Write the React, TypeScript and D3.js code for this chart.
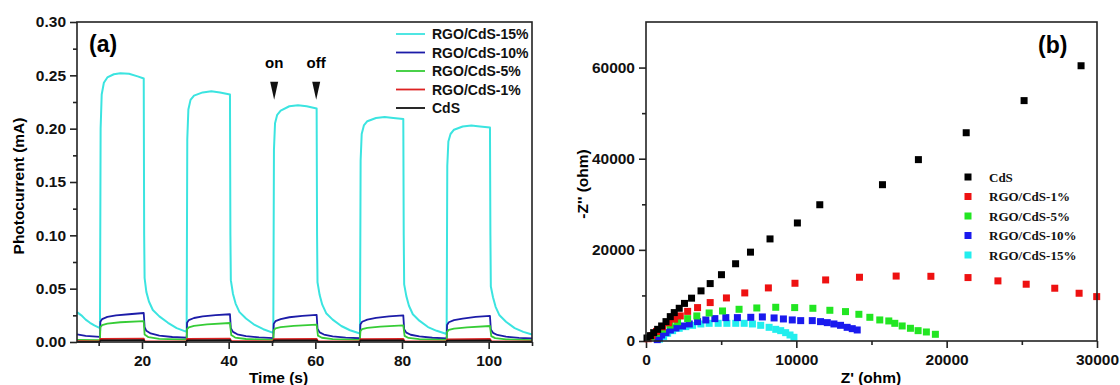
import React, { useEffect, useRef } from 'react'
import {
  select,
  line,
  axisBottom,
  axisLeft,
  scaleLinear,
  format
} from 'd3'

// ---- panel (a): photocurrent vs time ----
const seriesA = ['RGO/CdS-15%', 'RGO/CdS-10%', 'RGO/CdS-5%', 'RGO/CdS-1%', 'CdS']
const colorsA = ['#3be4e0', '#1c1ca8', '#36cc36', '#dd2222', '#111111']

const cyan15 = [
  [5, 0.028], [6, 0.025], [7, 0.021], [8, 0.018], [9, 0.0155], [10.3, 0.013],
  [10.45, 0.2], [10.7, 0.232], [11.2, 0.243], [12, 0.248], [13.5, 0.251], [15, 0.252], [17, 0.2515], [19, 0.249], [20.4, 0.247],
  [20.5, 0.1], [20.6, 0.06], [21, 0.047], [21.6, 0.038], [22.5, 0.03], [24, 0.024], [26, 0.018], [28, 0.013], [30.3, 0.0095],
  [30.45, 0.19], [30.7, 0.218], [31.2, 0.227], [32, 0.231], [34, 0.234], [36, 0.235], [38, 0.234], [40.3, 0.232],
  [40.4, 0.1], [40.5, 0.058], [41, 0.045], [41.6, 0.036], [42.5, 0.028], [44, 0.022], [46, 0.016], [48, 0.012], [50.3, 0.0085],
  [50.45, 0.18], [50.7, 0.205], [51.2, 0.213], [52, 0.217], [54, 0.221], [56, 0.222], [58, 0.221], [60.3, 0.219],
  [60.4, 0.1], [60.5, 0.056], [61, 0.044], [61.6, 0.035], [62.5, 0.027], [64, 0.021], [66, 0.015], [68, 0.011], [70.3, 0.008],
  [70.45, 0.17], [70.7, 0.195], [71.2, 0.203], [72, 0.207], [74, 0.21], [76, 0.211], [78, 0.21], [80.3, 0.209],
  [80.4, 0.1], [80.5, 0.054], [81, 0.043], [81.6, 0.034], [82.5, 0.026], [84, 0.02], [86, 0.014], [88, 0.0105], [90.3, 0.0075],
  [90.45, 0.165], [90.7, 0.188], [91.2, 0.195], [92, 0.199], [94, 0.202], [96, 0.203], [98, 0.202], [100.3, 0.201],
  [100.4, 0.1], [100.5, 0.052], [101, 0.042], [101.6, 0.033], [102.5, 0.025], [104, 0.019], [106, 0.013], [108, 0.0095], [110, 0.007]
]

const blue10 = [
  [5, 0.0072], [7, 0.0058], [10.3, 0.0048],
  [10.4, 0.019], [10.8, 0.0215], [12, 0.0235], [14, 0.025], [17, 0.026], [20.4, 0.0272],
  [20.6, 0.014], [21, 0.0105], [22, 0.008], [24, 0.006], [27, 0.0047], [30.3, 0.004],
  [30.4, 0.018], [30.8, 0.0205], [32, 0.0225], [34, 0.024], [37, 0.0252], [40.3, 0.026],
  [40.5, 0.013], [41, 0.0095], [42, 0.0072], [44, 0.0055], [47, 0.0043], [50.3, 0.0037],
  [50.4, 0.017], [50.8, 0.0195], [52, 0.0215], [54, 0.0232], [57, 0.0245], [60.3, 0.0255],
  [60.5, 0.0125], [61, 0.009], [62, 0.007], [64, 0.0053], [67, 0.0041], [70.3, 0.0035],
  [70.4, 0.0165], [70.8, 0.019], [72, 0.021], [74, 0.0226], [77, 0.024], [80.3, 0.025],
  [80.5, 0.012], [81, 0.0088], [82, 0.0068], [84, 0.0052], [87, 0.004], [90.3, 0.0034],
  [90.4, 0.016], [90.8, 0.0185], [92, 0.0205], [94, 0.022], [97, 0.0235], [100.3, 0.0244],
  [100.5, 0.0118], [101, 0.0086], [102, 0.0066], [104, 0.005], [107, 0.0039], [110, 0.0033]
]

const green5 = [
  [5, 0.002], [10.3, 0.0018],
  [10.4, 0.014], [10.8, 0.0158], [12, 0.0172], [15, 0.0185], [20.4, 0.0195],
  [20.6, 0.007], [21.5, 0.0045], [24, 0.003], [30.3, 0.0022],
  [30.4, 0.012], [30.8, 0.0138], [32, 0.0152], [35, 0.0165], [40.3, 0.0178],
  [40.6, 0.0065], [41.5, 0.0042], [44, 0.0028], [50.3, 0.002],
  [50.4, 0.011], [50.8, 0.0127], [52, 0.014], [55, 0.0152], [60.3, 0.0163],
  [60.6, 0.006], [61.5, 0.004], [64, 0.0027], [70.3, 0.002],
  [70.4, 0.0102], [70.8, 0.012], [72, 0.0133], [75, 0.0145], [80.3, 0.0156],
  [80.6, 0.0057], [81.5, 0.0038], [84, 0.0026], [90.3, 0.0019],
  [90.4, 0.0095], [90.8, 0.0113], [92, 0.0126], [95, 0.0138], [100.3, 0.015],
  [100.6, 0.0055], [101.5, 0.0036], [104, 0.0025], [110, 0.0018]
]

const red1 = [
  [5, 0.0008], [10.3, 0.0006], [10.4, 0.0028], [20.4, 0.0032],
  [20.6, 0.0008], [30.3, 0.0006], [30.4, 0.0028], [40.3, 0.0031],
  [40.6, 0.0008], [50.3, 0.0006], [50.4, 0.0027], [60.3, 0.003],
  [60.6, 0.0007], [70.3, 0.0006], [70.4, 0.0026], [80.3, 0.0029],
  [80.6, 0.0007], [90.3, 0.0005], [90.4, 0.0025], [100.3, 0.0028],
  [100.6, 0.0007], [110, 0.0005]
]

const cds = [
  [5, 0.0002], [10.3, 0.0002], [10.4, 0.0015], [20.4, 0.0017],
  [20.6, 0.0002], [30.3, 0.0002], [30.4, 0.0015], [40.3, 0.0017],
  [40.6, 0.0002], [50.3, 0.0002], [50.4, 0.0014], [60.3, 0.0016],
  [60.6, 0.0002], [70.3, 0.0002], [70.4, 0.0014], [80.3, 0.0016],
  [80.6, 0.0002], [90.3, 0.0002], [90.4, 0.0013], [100.3, 0.0015],
  [100.6, 0.0002], [110, 0.0002]
]

const timeTicks = [20, 40, 60, 80, 100]
const timeMinor = [10, 30, 50, 70, 90, 110]
const currentTicks = [0, 0.05, 0.1, 0.15, 0.2, 0.25, 0.3]
const currentMinor = [0.025, 0.075, 0.125, 0.175, 0.225, 0.275]

// ---- panel (b): Nyquist plot ----
const seriesB = ['CdS', 'RGO/CdS-1%', 'RGO/CdS-5%', 'RGO/CdS-10%', 'RGO/CdS-15%']
const colorsB = ['#000000', '#ee1111', '#22e622', '#1a1aee', '#22eeee']

const nyqCdS = [
  [66, 660], [290, 1170], [510, 1830], [775, 2560], [1040, 3300], [1330, 4250], [1615, 5350],
  [1880, 6230], [2210, 7180], [2560, 8250], [3030, 9400], [3660, 11000], [4270, 12600],
  [5020, 14550], [5960, 16950], [6950, 19500], [8250, 22400], [10070, 25900], [11560, 29900],
  [15730, 34300], [18120, 39800], [21300, 45700], [25150, 52750], [28940, 60400]
]
const nyq1 = [
  [150, 500], [400, 1200], [700, 2100], [1100, 3100], [1500, 4000], [1900, 4800], [2280, 5500],
  [2770, 6500], [3430, 7330], [4270, 8430], [5350, 9450], [6570, 10550], [8140, 11650],
  [9910, 12670], [11950, 13400], [14200, 13990], [16640, 14250], [18950, 14200], [21420, 13920],
  [23410, 13190], [25290, 12460], [27190, 11580], [28810, 10480], [29980, 9740]
]
const nyq5 = [
  [350, 900], [700, 1700], [1100, 2600], [1600, 3500], [2100, 4250], [2770, 4910], [3380, 5500],
  [4200, 6150], [5090, 6590], [6190, 6960], [7370, 7250], [8630, 7400], [9890, 7330], [11100, 7180],
  [12230, 6740], [13270, 6450], [14160, 5860], [14890, 5200], [15550, 4620], [16150, 4400],
  [16550, 3880], [17040, 3300], [17590, 2790], [18100, 2270], [18650, 1980], [19250, 1470]
]
const nyq10 = [
  [750, 300], [885, 810], [1040, 1320], [1330, 1830], [1620, 2420], [1990, 2860], [2430, 3300],
  [2880, 3740], [3430, 4250], [3980, 4620], [4580, 4910], [5310, 5130], [6080, 5130], [6970, 5200],
  [7740, 5280], [8520, 5060], [9140, 4840], [9730, 4620], [10290, 4470], [11060, 4470], [11610, 4250],
  [12060, 4030], [12500, 3740], [12940, 3440], [13380, 3000], [13720, 2710], [14050, 2420]
]
const nyq15 = [
  [900, 400], [1170, 950], [1440, 1690], [1770, 2270], [2210, 2790], [2650, 3150], [3100, 3440],
  [3650, 3740], [4200, 3880], [4800, 3880], [5380, 3880], [5970, 3880], [6530, 3880], [7080, 3740],
  [7630, 3440], [8190, 3000], [8630, 2560], [8960, 2270], [9290, 1830], [9580, 1320], [9840, 810]
]

const zRealTicks = [0, 10000, 20000, 30000]
const zRealMinor = [5000, 15000, 25000]
const zImagTicks = [0, 20000, 40000, 60000]
const zImagMinor = [10000, 30000, 50000]

const sans = 'Liberation Sans, Arial, sans-serif'
const serif = 'Liberation Serif, Times New Roman, serif'

const App = () => {
  const svgRef = useRef()

  useEffect(() => {
    const svg = select(svgRef.current)
    svg.selectAll('*').remove()

    // ================= panel (a) =================
    const xA = scaleLinear().domain([5, 110]).range([77, 532])
    const yA = scaleLinear().domain([0, 0.3]).range([342, 22])
    const gA = svg.append('g')

    const styleAxis = (g) => {
      g.select('.domain').remove()
      g.selectAll('line').attr('stroke', '#222').attr('stroke-width', 1.6)
      g.selectAll('text')
        .attr('font-family', sans)
        .attr('font-weight', 'bold')
        .attr('font-size', 15.5)
        .attr('fill', '#111')
    }

    gA.append('g')
      .attr('transform', 'translate(0,342)')
      .call(axisBottom(xA).tickValues(timeTicks).tickSize(7).tickPadding(6).tickFormat(format('d')))
      .call(styleAxis)
    gA.append('g')
      .attr('transform', 'translate(0,342)')
      .call(axisBottom(xA).tickValues(timeMinor).tickSize(4).tickFormat(() => ''))
      .call(styleAxis)
    gA.append('g')
      .attr('transform', 'translate(77,0)')
      .call(axisLeft(yA).tickValues(currentTicks).tickSize(7).tickPadding(4).tickFormat(format('.2f')))
      .call(styleAxis)
    gA.append('g')
      .attr('transform', 'translate(77,0)')
      .call(axisLeft(yA).tickValues(currentMinor).tickSize(4).tickFormat(() => ''))
      .call(styleAxis)

    const lineA = line()
      .x(d => xA(d[0]))
      .y(d => yA(d[1]))

    const dataA = [cyan15, blue10, green5, red1, cds]
    // draw back to front so that the small currents sit on top
    dataA.forEach((d, i) => {
      gA.append('path')
        .datum(d)
        .attr('d', lineA)
        .attr('fill', 'none')
        .attr('stroke', colorsA[i])
        .attr('stroke-width', i === 0 ? 2 : 1.8)
        .attr('stroke-linejoin', 'round')
    })

    gA.append('rect')
      .attr('x', 77).attr('y', 22).attr('width', 455).attr('height', 320)
      .attr('fill', 'none').attr('stroke', '#222').attr('stroke-width', 1.6)

    // legend (a)
    seriesA.forEach((s, i) => {
      const y = 34 + i * 18.5
      gA.append('line')
        .attr('x1', 396).attr('x2', 425).attr('y1', y).attr('y2', y)
        .attr('stroke', colorsA[i]).attr('stroke-width', 1.8)
      gA.append('text')
        .attr('x', 432).attr('y', y + 5)
        .attr('font-family', sans).attr('font-weight', 'bold').attr('font-size', 14)
        .attr('fill', '#111')
        .text(s)
    })

    gA.append('text')
      .attr('x', 89).attr('y', 52)
      .attr('font-family', sans).attr('font-weight', 'bold').attr('font-size', 23)
      .text('(a)')

    // on / off markers
    const marks = [[50.5, 'on'], [60.2, 'off']]
    marks.forEach(([t, label]) => {
      const cx = xA(t)
      const top = yA(0.244)
      const tip = yA(0.227)
      gA.append('path')
        .attr('d', `M${cx - 4},${top} L${cx + 4},${top} L${cx},${tip} Z`)
        .attr('fill', '#111')
      gA.append('text')
        .attr('x', cx).attr('y', 68)
        .attr('text-anchor', 'middle')
        .attr('font-family', sans).attr('font-weight', 'bold').attr('font-size', 15)
        .text(label)
    })

    gA.append('text')
      .attr('x', (77 + 532) / 2 - 26).attr('y', 383)
      .attr('text-anchor', 'middle')
      .attr('font-family', sans).attr('font-weight', 'bold').attr('font-size', 15.5)
      .text('Time (s)')
    gA.append('text')
      .attr('transform', 'translate(24,186) rotate(-90)')
      .attr('text-anchor', 'middle')
      .attr('font-family', sans).attr('font-weight', 'bold').attr('font-size', 15.5)
      .text('Photocurrent (mA)')

    // ================= panel (b) =================
    const xB = scaleLinear().domain([0, 30000]).range([646, 1097])
    const yB = scaleLinear().domain([0, 70000]).range([341, 22])
    const gB = svg.append('g')

    gB.append('g')
      .attr('transform', 'translate(0,341)')
      .call(axisBottom(xB).tickValues(zRealTicks).tickSize(7).tickPadding(6).tickFormat(format('d')))
      .call(styleAxis)
    gB.append('g')
      .attr('transform', 'translate(0,341)')
      .call(axisBottom(xB).tickValues(zRealMinor).tickSize(4).tickFormat(() => ''))
      .call(styleAxis)
    gB.append('g')
      .attr('transform', 'translate(646,0)')
      .call(axisLeft(yB).tickValues(zImagTicks).tickSize(7).tickPadding(4).tickFormat(format('d')))
      .call(styleAxis)
    gB.append('g')
      .attr('transform', 'translate(646,0)')
      .call(axisLeft(yB).tickValues(zImagMinor).tickSize(4).tickFormat(() => ''))
      .call(styleAxis)

    const dataB = [nyqCdS, nyq1, nyq5, nyq10, nyq15]
    const sq = 7
    for (let i = dataB.length - 1; i >= 0; i--) {
      gB.append('g')
        .selectAll('rect')
        .data(dataB[i])
        .join('rect')
        .attr('x', d => xB(d[0]) - sq / 2)
        .attr('y', d => yB(d[1]) - sq / 2)
        .attr('width', sq)
        .attr('height', sq)
        .attr('fill', colorsB[i])
    }

    gB.append('rect')
      .attr('x', 646).attr('y', 22).attr('width', 451).attr('height', 319)
      .attr('fill', 'none').attr('stroke', '#222').attr('stroke-width', 1.6)

    // legend (b)
    seriesB.forEach((s, i) => {
      const y = 177 + i * 19.5
      gB.append('rect')
        .attr('x', 968 - sq / 2).attr('y', y - sq / 2)
        .attr('width', sq).attr('height', sq)
        .attr('fill', colorsB[i])
      gB.append('text')
        .attr('x', 989).attr('y', y + 4.5)
        .attr('font-family', serif).attr('font-weight', 'bold').attr('font-size', 13)
        .attr('fill', '#111')
        .text(s)
    })

    gB.append('text')
      .attr('x', 1038).attr('y', 53)
      .attr('font-family', sans).attr('font-weight', 'bold').attr('font-size', 23)
      .text('(b)')

    gB.append('text')
      .attr('x', 871).attr('y', 383)
      .attr('text-anchor', 'middle')
      .attr('font-family', sans).attr('font-weight', 'bold').attr('font-size', 15.5)
      .text("Z' (ohm)")
    gB.append('text')
      .attr('transform', 'translate(588,184) rotate(-90)')
      .attr('text-anchor', 'middle')
      .attr('font-family', sans).attr('font-weight', 'bold').attr('font-size', 15.5)
      .text("-Z'' (ohm)")
  }, [])

  return (
    <svg
      ref={svgRef}
      width={1120}
      height={385}
      style={{ position: 'absolute', left: 0, top: 0, background: '#fff' }}
    />
  )
}

export default App
